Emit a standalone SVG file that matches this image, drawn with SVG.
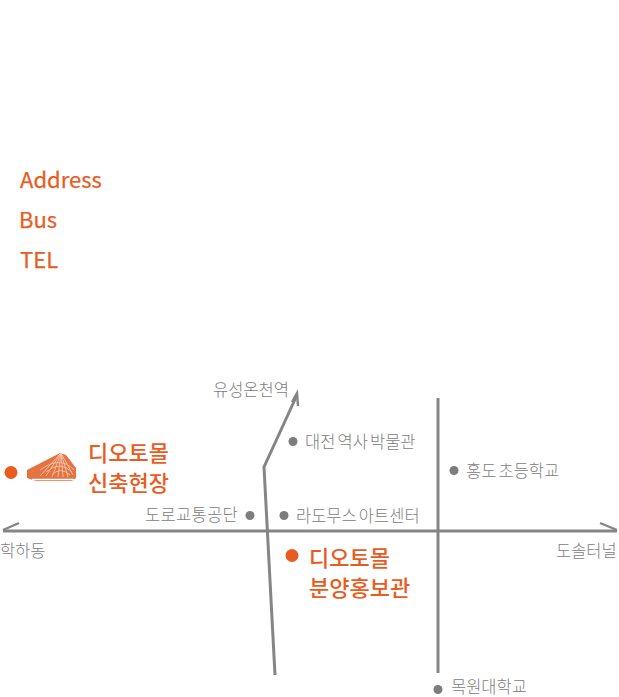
<svg xmlns="http://www.w3.org/2000/svg" width="619" height="697" viewBox="0 0 619 697">
<style>
text{font-family:"Noto Sans CJK KR","Noto Sans",sans-serif}
.h{fill:#ea5b1e;stroke:#ea5b1e;stroke-width:.25px;font-size:22px;font-weight:400}
.o{fill:#ea5b1e;font-size:22px;font-weight:500}
.g{fill:#808080;font-size:16.500px;font-weight:300;word-spacing:-1.500px}
.d{fill:#7d7d7d}
.r{fill:none;stroke:#858585;stroke-width:3}
.b{fill:none;stroke:#858585;stroke-width:2.400}
.l{fill:none;stroke:#f6cdb9;stroke-width:.800}
</style>
<rect width="619" height="697" fill="#fff"/>
<g id="info"><text class="h" x="20" y="188">Address</text><text class="h" x="19" y="228">Bus</text><text class="h" x="20" y="268">TEL</text></g>
<g id="connectors">
<path class="r" d="M3 531H617"/>
<path class="b" d="M3 530L19 523M617 530L600 523"/>
<path class="r" d="M275 675L264 467L297 395"/>
<path class="b" d="M292 402L297 393L298 406"/>
<path class="r" d="M438 398V673"/>
</g>
<g id="site"><circle cx="11" cy="472.500" r="6.500" fill="#ea5b1e"/>
<path d="M27 470L60 453L66 455L76 468V478L72 481H36L27 478Z" fill="#e5733f"/>
<path d="M32 479.500H74" stroke="#fff" stroke-width="1.500"/>
<path class="l" d="M61 453L40 476M61 453L46 476M61 453L52 477M61 453L58 477M61 453L63 477M61 453L68 477M61 453L73 475M40 470Q60 455 74 470M46 472Q60 460 72 472M52 475Q60 466 70 475"/>
<text class="o" x="88" y="460.500">디오토몰</text><text class="o" x="88" y="490.500">신축현장</text></g>
<g id="showroom"><circle cx="292" cy="555.500" r="6.500" fill="#ea5b1e"/><text class="o" x="309" y="565.500">디오토몰</text><text class="o" x="309" y="595.500">분양홍보관</text></g>
<g id="p1"><text class="g" x="213" y="396">유성온천역</text></g>
<g id="p2"><circle class="d" cx="293" cy="441.500" r="4.500"/><text class="g" x="305" y="448">대전 역사 박물관</text></g>
<g id="p3"><circle class="d" cx="454" cy="470.500" r="4.500"/><text class="g" x="466" y="477">홍도 초등학교</text></g>
<g id="p4"><text class="g" x="145" y="521" letter-spacing=".3">도로교통공단</text><circle class="d" cx="250" cy="515.500" r="4.500"/></g>
<g id="p5"><circle class="d" cx="284" cy="515.500" r="4.500"/><text class="g" x="296" y="522">라도무스 아트센터</text></g>
<g id="p6"><text class="g" x="0" y="557">학하동</text></g>
<g id="p7"><text class="g" x="556" y="557">도솔터널</text></g>
<g id="p8"><circle class="d" cx="438" cy="689.500" r="4.500"/><text class="g" x="451" y="693">목원대학교</text></g>
</svg>
